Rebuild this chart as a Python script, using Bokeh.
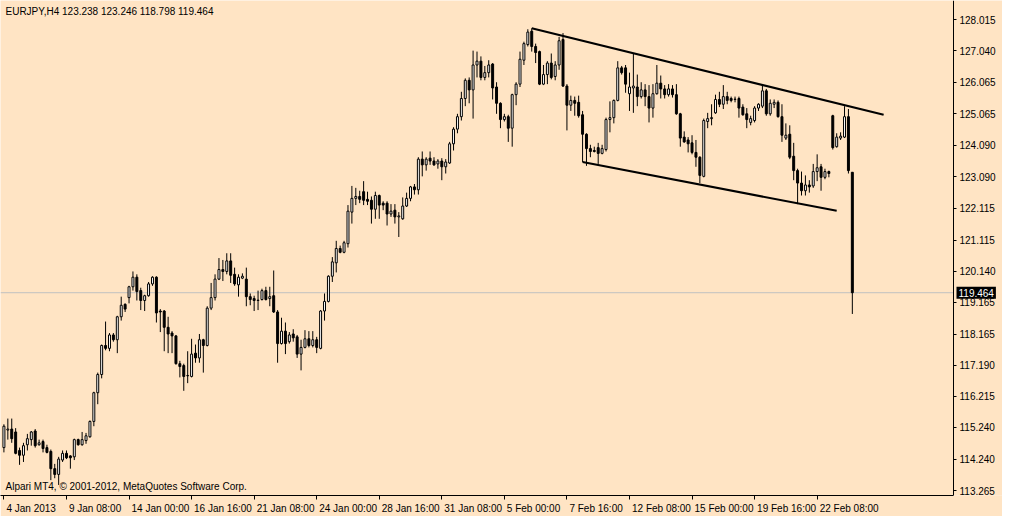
from bokeh.plotting import figure
from bokeh.models import Range1d, FixedTicker, Label, ColumnDataSource, PrintfTickFormatter
from bokeh.embed import file_html
from bokeh.resources import INLINE

# ---------------- data (EURJPY H4) ----------------
open_ = [114.61, 115.16, 115.19, 115.10, 114.52, 114.37, 114.70, 114.86, 115.13, 114.70,
         114.80, 114.61, 114.49, 113.95, 113.77, 114.22, 114.43, 114.35, 114.32, 114.86,
         114.70, 114.83, 114.95, 115.43, 116.33, 116.90, 117.81, 117.72, 118.14, 117.99,
         118.71, 119.10, 119.31, 119.65, 119.95, 119.53, 119.22, 119.37, 119.74, 119.95,
         118.89, 118.89, 118.38, 118.20, 118.11, 117.24, 117.18, 116.86, 116.84, 117.57,
         117.42, 117.99, 117.81, 118.98, 119.31, 119.89, 120.19, 120.13, 120.46, 120.04,
         119.71, 119.92, 119.89, 119.34, 119.28, 119.22, 119.25, 119.53, 119.28, 119.37,
         118.86, 117.87, 118.26, 117.93, 118.17, 118.08, 117.54, 117.75, 118.02, 117.81,
         117.99, 117.72, 118.89, 119.19, 119.98, 120.40, 120.85, 120.73, 121.00, 121.99,
         122.42, 122.48, 122.63, 122.39, 122.36, 122.08, 122.51, 122.27, 122.27, 121.93,
         122.05, 121.84, 121.78, 122.18, 122.42, 122.78, 122.69, 123.65, 123.47, 123.68,
         123.59, 123.50, 123.59, 123.41, 123.53, 124.13, 124.59, 124.98, 125.55, 126.12,
         125.82, 126.60, 126.72, 126.21, 126.36, 126.63, 125.91, 125.40, 124.89, 124.98,
         124.62, 125.67, 126.00, 126.75, 127.24, 127.66, 127.18, 127.02, 126.00, 126.30,
         126.66, 126.24, 126.60, 127.40, 125.94, 125.34, 125.49, 125.43, 125.04, 124.43,
         123.98, 123.92, 124.01, 123.83, 123.95, 124.89, 124.95, 125.49, 126.51, 126.51,
         125.70, 125.88, 125.91, 125.61, 125.82, 125.61, 125.25, 125.70, 126.03, 125.85,
         125.67, 125.85, 125.67, 125.07, 124.34, 124.25, 124.16, 123.86, 123.71, 123.11,
         124.83, 124.92, 125.10, 125.52, 125.37, 125.61, 125.55, 125.52, 125.55, 125.28,
         125.07, 124.80, 124.86, 125.25, 125.31, 125.79, 125.07, 125.37, 125.43, 124.98,
         124.31, 124.43, 123.74, 123.29, 122.90, 122.66, 122.84, 122.81, 123.26, 123.41,
         123.08, 123.26, 125.01, 124.04, 124.31, 124.34, 124.98, 123.238]
high = [115.34, 115.52, 115.52, 115.22, 114.61, 114.76, 115.04, 115.13, 115.19, 114.86,
        114.86, 114.70, 114.55, 114.10, 114.32, 114.52, 114.52, 114.37, 114.89, 114.89,
        115.10, 115.07, 115.46, 116.36, 116.96, 117.84, 118.56, 118.20, 118.20, 118.74,
        119.34, 119.13, 119.68, 120.13, 120.04, 119.62, 119.40, 119.80, 119.98, 119.98,
        118.95, 118.92, 118.71, 118.26, 118.14, 117.33, 117.24, 117.63, 118.02, 117.84,
        118.17, 118.02, 119.04, 119.77, 120.04, 120.55, 120.49, 120.70, 120.70, 120.25,
        120.04, 120.07, 120.25, 119.44, 119.37, 119.53, 119.59, 119.65, 119.65, 120.16,
        118.92, 118.68, 118.53, 118.23, 118.32, 118.14, 117.99, 118.29, 118.26, 118.26,
        118.08, 118.92, 119.44, 120.01, 120.58, 121.09, 120.94, 121.09, 122.21, 122.81,
        122.75, 122.66, 122.96, 122.63, 122.48, 122.63, 122.54, 122.33, 122.33, 122.24,
        122.24, 121.99, 122.45, 122.60, 122.81, 122.87, 123.71, 123.89, 123.71, 123.89,
        123.71, 123.65, 123.68, 123.65, 124.19, 124.65, 125.07, 125.76, 126.18, 126.21,
        127.05, 127.02, 126.87, 126.57, 126.75, 126.66, 126.06, 125.43, 125.07, 125.04,
        125.70, 126.06, 127.02, 127.33, 127.72, 127.75, 127.27, 127.05, 126.60, 126.72,
        126.96, 126.72, 127.48, 127.60, 126.00, 125.64, 125.61, 125.64, 125.16, 124.46,
        124.10, 124.04, 124.16, 124.10, 124.95, 125.46, 125.52, 126.72, 126.57, 126.60,
        126.36, 126.96, 126.30, 126.06, 126.00, 125.97, 126.00, 126.60, 126.27, 125.97,
        126.00, 125.97, 126.00, 125.10, 124.52, 124.34, 124.40, 124.25, 123.74, 124.92,
        125.10, 125.37, 125.67, 125.76, 125.97, 125.76, 125.61, 125.61, 125.61, 125.37,
        125.25, 125.01, 125.31, 125.40, 125.97, 125.85, 125.52, 125.52, 125.49, 125.37,
        124.77, 124.71, 124.16, 123.35, 123.26, 123.14, 122.99, 123.50, 123.80, 123.50,
        123.35, 123.29, 125.04, 124.46, 124.49, 125.31, 125.22, 123.246]
low = [114.46, 114.86, 114.76, 114.40, 114.07, 114.16, 114.52, 114.67, 114.61, 114.67,
       114.46, 114.43, 113.59, 113.65, 113.44, 114.16, 114.25, 113.95, 114.22, 114.67,
       114.67, 114.73, 114.92, 115.28, 115.97, 116.78, 117.66, 117.63, 117.93, 117.57,
       118.59, 118.86, 119.13, 119.53, 119.22, 118.92, 118.89, 119.34, 119.68, 118.53,
       118.23, 117.63, 117.57, 117.57, 117.21, 116.81, 116.39, 116.63, 116.81, 117.27,
       117.27, 116.96, 117.78, 118.92, 119.22, 119.86, 119.83, 120.04, 119.77, 119.68,
       119.34, 119.89, 119.04, 119.07, 118.89, 118.92, 119.22, 119.22, 119.04, 118.83,
       117.27, 117.84, 117.54, 117.87, 117.93, 117.42, 117.03, 117.72, 117.75, 117.75,
       117.57, 117.69, 118.59, 119.16, 119.80, 120.10, 120.70, 120.70, 120.88, 121.63,
       122.21, 122.27, 122.21, 122.21, 121.63, 121.78, 121.78, 122.05, 121.57, 121.84,
       121.63, 121.21, 121.75, 122.15, 122.33, 122.54, 122.54, 123.11, 123.29, 123.47,
       123.44, 123.35, 122.99, 123.20, 123.50, 123.92, 124.46, 124.86, 125.31, 125.40,
       124.92, 126.21, 126.12, 126.12, 126.21, 125.52, 125.07, 124.62, 124.83, 124.19,
       124.04, 125.34, 125.91, 126.60, 127.18, 127.02, 126.66, 125.97, 125.97, 126.00,
       126.15, 126.12, 126.45, 125.91, 124.55, 125.16, 125.01, 124.95, 123.56, 123.44,
       123.71, 123.86, 123.50, 123.80, 123.89, 124.49, 124.77, 125.46, 126.30, 125.73,
       125.16, 125.10, 125.31, 125.55, 125.31, 124.80, 124.95, 125.67, 125.55, 125.55,
       125.61, 125.58, 125.04, 124.04, 124.16, 123.86, 123.80, 123.41, 122.90, 123.08,
       124.62, 124.71, 125.07, 125.28, 125.22, 125.37, 125.43, 125.43, 124.95, 125.01,
       124.62, 124.71, 124.80, 125.16, 125.25, 125.01, 125.01, 125.25, 124.95, 124.19,
       124.25, 123.65, 122.99, 122.24, 122.51, 122.51, 122.60, 122.75, 122.96, 122.66,
       123.02, 123.08, 123.95, 124.01, 124.25, 124.31, 123.20, 118.798]
close = [115.28, 115.19, 114.89, 114.43, 114.37, 114.67, 114.89, 115.10, 114.67, 114.76,
         114.58, 114.46, 113.95, 113.77, 114.25, 114.43, 114.29, 114.29, 114.86, 114.70,
         114.86, 114.98, 115.43, 116.33, 116.90, 117.81, 117.72, 118.14, 117.99, 118.71,
         119.07, 118.95, 119.65, 119.95, 119.50, 119.22, 119.37, 119.74, 119.95, 118.83,
         118.86, 118.38, 118.17, 118.11, 117.24, 117.15, 116.84, 116.87, 117.54, 117.42,
         117.99, 117.81, 118.98, 119.31, 119.89, 120.19, 120.13, 120.46, 120.01, 119.74,
         119.95, 119.98, 119.34, 119.25, 119.22, 119.23, 119.53, 119.25, 119.34, 118.86,
         117.87, 118.26, 117.87, 118.14, 118.05, 117.54, 117.75, 118.02, 117.81, 117.99,
         117.75, 118.89, 119.19, 119.98, 120.43, 120.85, 120.73, 121.03, 122.02, 122.42,
         122.48, 122.39, 122.36, 122.33, 122.08, 122.51, 122.21, 122.21, 121.93, 122.02,
         121.84, 121.87, 122.18, 122.42, 122.78, 122.69, 123.65, 123.47, 123.65, 123.59,
         123.47, 123.59, 123.41, 123.56, 124.13, 124.59, 124.98, 125.55, 126.12, 125.82,
         126.60, 126.72, 126.21, 126.36, 126.60, 125.88, 125.40, 124.89, 124.98, 124.62,
         125.67, 126.00, 126.78, 127.27, 127.63, 127.18, 126.99, 126.00, 126.30, 126.66,
         126.21, 126.60, 127.36, 125.94, 125.34, 125.49, 125.40, 125.01, 124.43, 123.98,
         123.89, 123.89, 123.83, 123.98, 124.89, 124.95, 125.49, 126.51, 126.36, 126.00,
         125.91, 125.94, 125.61, 125.82, 125.61, 125.25, 125.70, 126.03, 125.85, 125.67,
         125.85, 125.67, 125.07, 124.31, 124.19, 124.13, 123.86, 123.71, 123.14, 124.86,
         124.92, 124.95, 125.52, 125.37, 125.61, 125.49, 125.49, 125.53, 125.25, 125.04,
         124.89, 124.92, 125.25, 125.37, 125.79, 125.07, 125.40, 125.43, 124.98, 124.40,
         124.40, 123.71, 123.29, 122.90, 122.66, 122.84, 122.78, 123.26, 123.38, 123.08,
         123.26, 123.20, 124.01, 124.34, 124.37, 124.98, 123.29, 119.464]

x_tick_bars = [0, 16, 32, 48, 64, 80, 96, 112, 128, 144, 160, 176, 192, 208]
x_tick_labels = ["4 Jan 2013", "9 Jan 08:00", "14 Jan 00:00", "16 Jan 16:00",
                 "21 Jan 08:00", "24 Jan 00:00", "28 Jan 16:00", "31 Jan 08:00",
                 "5 Feb 00:00", "7 Feb 16:00", "12 Feb 08:00", "15 Feb 00:00",
                 "19 Feb 16:00", "22 Feb 08:00"]
y_ticks = [128.015, 127.040, 126.065, 125.065, 124.090, 123.090, 122.115, 121.115,
           120.140, 119.165, 118.165, 117.190, 116.215, 115.240, 114.240, 113.265]
last_price = 119.464
header_text = "EURJPY,H4  123.238 123.246 118.798 119.464"
footer_text = "Alpari MT4, \u00a9 2001-2012, MetaQuotes Software Corp."

upper_line_x = [135, 225]
upper_line_y = [127.75, 125.04]
lower_line_x = [148, 213]
lower_line_y = [123.56, 122.03]

# ---------------- styling / layout ----------------
BG = "#FFE4C4"
FONT = "Liberation Sans"
FS = "10px"
W, H = 1002, 516
X0 = -0.875            # left edge of the chart area (in bar units)
AX = 242.875           # bar position of the price-scale line
AX_PX = 953.0          # pixel position of the price-scale line
PX_PER_BAR = AX_PX / (AX - X0)
X1 = X0 + W / PX_PER_BAR
Y0, Y1 = 113.109, 128.621

n = len(open_)
idx = list(range(n))
src = ColumnDataSource(dict(
    x=idx, o=open_, h=high, l=low, c=close,
    top=[max(a, b) for a, b in zip(open_, close)],
    bot=[min(a, b) for a, b in zip(open_, close)],
    fill=["white" if c >= o else "black" for o, c in zip(open_, close)],
))

p = figure(width=W, height=H, x_range=Range1d(X0, X1), y_range=Range1d(Y0, Y1),
           y_axis_location="right", output_backend="svg", toolbar_location=None,
           background_fill_color=BG, border_fill_color=BG)
p.min_border_left = 0
p.min_border_right = 0
p.min_border_top = 0
p.min_border_bottom = 0
p.outline_line_color = None
p.xgrid.visible = False
p.ygrid.visible = False

# current price line (behind the candles, up to the price scale)
p.segment(x0=[X0], y0=[last_price], x1=[AX], y1=[last_price],
          line_color="#C0C0C0", line_width=1)

# candles
p.segment(x0="x", y0="l", x1="x", y1="h", source=src, line_color="black", line_width=1)
p.vbar(x="x", width=0.5, top="top", bottom="bot", source=src,
       fill_color="fill", line_color="black", line_width=1)

# channel lines
p.line(upper_line_x, upper_line_y, line_color="black", line_width=2)
p.line(lower_line_x, lower_line_y, line_color="black", line_width=2)

# ---- x axis: tick marks at the bars, labels starting just right of them ----
cw = {"J": 0.5, "F": 0.611, "a": 0.556, "n": 0.556, "e": 0.556, "b": 0.556,
      " ": 0.278, ":": 0.278}
def text_w(t):
    return sum(cw.get(ch, 0.556) for ch in t) * 10.0

centers = [round(b + (2.5 + text_w(t) / 2.0) / PX_PER_BAR, 2)
           for b, t in zip(x_tick_bars, x_tick_labels)]
xa = p.xaxis[0]
xa.ticker = FixedTicker(ticks=centers, minor_ticks=x_tick_bars)
xa.major_label_overrides = {c: t for c, t in zip(centers, x_tick_labels)}
xa.bounds = (X0, AX)
xa.major_tick_out = 0
xa.major_tick_in = 0
xa.minor_tick_out = 4
xa.minor_tick_in = 0
xa.minor_tick_line_color = "black"
xa.axis_line_color = "black"
xa.major_label_standoff = 3
xa.major_label_text_font = FONT
xa.major_label_text_font_size = FS
xa.major_label_text_color = "black"

# ---- price scale: drawn at a fixed position so the chart area spans the width ----
ya = p.yaxis[0]
ya.fixed_location = AX
ya.ticker = FixedTicker(ticks=y_ticks)
ya.formatter = PrintfTickFormatter(format="%.3f")
ya.major_tick_out = 3
ya.major_tick_in = 0
ya.minor_tick_out = 0
ya.minor_tick_in = 0
ya.axis_line_color = "black"
ya.major_tick_line_color = "black"
ya.major_label_standoff = 3
ya.major_label_text_font = FONT
ya.major_label_text_font_size = FS
ya.major_label_text_color = "black"

# header & footer texts
p.add_layout(Label(x=X0, y=Y1, x_offset=5, y_offset=-11, text=header_text,
                   text_font=FONT, text_font_size=FS, text_color="black",
                   text_baseline="middle", text_align="left"))
p.add_layout(Label(x=X0, y=Y0, x_offset=5, y_offset=9, text=footer_text,
                   text_font=FONT, text_font_size=FS, text_color="black",
                   text_baseline="middle", text_align="left"))
# current price box on the price scale
p.add_layout(Label(x=AX, y=last_price, x_offset=3, y_offset=0, text="%.3f" % last_price,
                   text_font=FONT, text_font_size=FS, text_color="white",
                   background_fill_color="black", padding=2,
                   text_baseline="middle", text_align="left"))

open("out.html", "w").write(file_html(p, INLINE))
